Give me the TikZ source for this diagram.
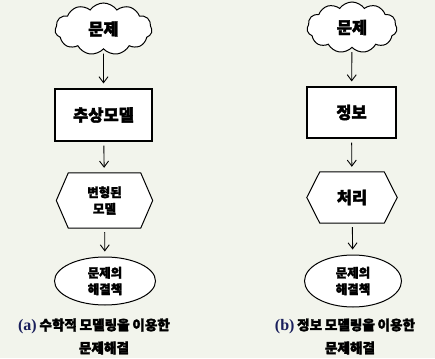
\documentclass[tikz,border=0pt]{standalone}
\usepackage{fontspec}
\setmainfont{Liberation Serif}
\newfontfamily\kr{Noto Sans CJK KR}[FakeBold=2.2, WordSpace=0.85]
\usetikzlibrary{shapes.symbols,shapes.geometric,arrows.meta,backgrounds}
\definecolor{bg}{HTML}{F2F4EC}
\definecolor{navy}{HTML}{1A1F5C}
\begin{document}
\begin{tikzpicture}[x=1pt,y=-1pt,
  lab/.style={font=\kr\bfseries\fontsize{16.5}{19}\selectfont, align=center},
  smalllab/.style={font=\kr\bfseries\fontsize{12.5}{16.5}\selectfont, align=center},
  cloudbox/.style={cloud, cloud puffs=11, cloud puff arc=110, aspect=1.9, draw, line width=1pt, fill=white, inner sep=0pt},
  rectbox/.style={rectangle, draw, line width=1.1pt, fill=white},
  hexbox/.style={rectangle, inner sep=0pt},
  hexline/.style={draw, line width=1pt, fill=white},
  ellbox/.style={ellipse, draw, line width=1pt, fill=white, inner sep=0pt},
  arr/.style={-{Straight Barb[length=6pt,width=9pt]}, line width=0.9pt, shorten <=4pt, shorten >=5pt},
  captext/.style={font=\kr\bfseries\fontsize{13.6}{18}\selectfont, align=center}
]
\begin{scope}[on background layer]
  \fill[bg] (0,0) rectangle (435,358);
\end{scope}
\useasboundingbox (0,0) rectangle (435,358);

% left column
\node[cloudbox, lab, minimum width=97pt, minimum height=52pt] (c1) at (103.5,29) {문제};
\node[rectbox, lab, minimum width=97pt, minimum height=52pt] (r1) at (103.5,115) {추상모델};
\node[hexbox, smalllab, minimum width=96pt, minimum height=55pt] (h1) at (104.5,200.5) {변형된\\모델};
\node[ellbox, smalllab, minimum width=101pt, minimum height=48pt] (e1) at (105,281) {문제의\\해결책};

% right column
\node[cloudbox, lab, minimum width=90pt, minimum height=51pt] (c2) at (352,27.5) {문제};
\node[rectbox, lab, minimum width=89pt, minimum height=51pt] (r2) at (351.5,112.5) {정보};
\node[hexbox, lab, minimum width=90pt, minimum height=51pt] (h2) at (352,197.5) {처리};
\node[ellbox, smalllab, minimum width=97pt, minimum height=52pt] (e2) at (353,281) {문제의\\해결책};

\begin{scope}[on background layer]
  \path[hexline] (h1.west) -- ([xshift=12pt]h1.north west) -- ([xshift=-12pt]h1.north east) -- (h1.east) -- ([xshift=-12pt]h1.south east) -- ([xshift=12pt]h1.south west) -- cycle;
  \path[hexline] (h2.west) -- ([xshift=13pt]h2.north west) -- ([xshift=-13pt]h2.north east) -- (h2.east) -- ([xshift=-13pt]h2.south east) -- ([xshift=13pt]h2.south west) -- cycle;
\end{scope}

\draw[arr] (c1) -- (r1);
\draw[arr] (r1) -- (h1);
\draw[arr] (h1) -- (e1);
\draw[arr] (c2) -- (r2);
\draw[arr] (r2) -- (h2);
\draw[arr] (h2) -- (e2);

% captions
\node[captext] (a1) at (94,326) {{\color{navy}\rmfamily\fontsize{16}{19}\selectfont(a)} 수학적 모델링을 이용한};
\node[captext] (a2) at (104,348) {문제해결};
\node[captext] (b1) at (345,326) {{\color{navy}\rmfamily\fontsize{16}{19}\selectfont(b)} 정보 모델링을 이용한};
\node[captext] (b2) at (350,348) {문제해결};
\end{tikzpicture}
\end{document}
